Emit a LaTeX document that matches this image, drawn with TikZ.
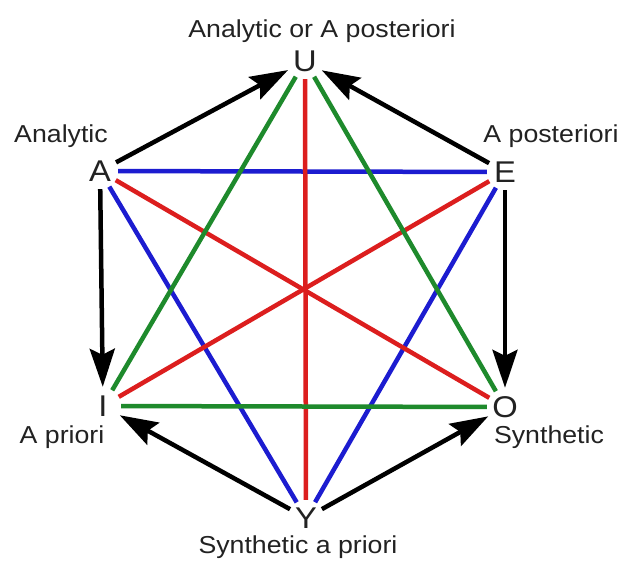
\documentclass[tikz,border=0pt]{standalone}
\usepackage{fontspec}
\setmainfont{Liberation Sans}[FakeStretch=1.09]
\usetikzlibrary{arrows.meta}
\definecolor{lblue}{HTML}{1C1CD0}
\definecolor{lred}{HTML}{DC1E1E}
\definecolor{lgreen}{HTML}{1E8A2C}
\definecolor{ltext}{HTML}{222222}
\begin{document}
\begin{tikzpicture}[x=1pt,y=-1pt,
  vert/.style={circle,minimum size=36pt,inner sep=0pt,text=ltext,
    font=\fontsize{30}{31}\selectfont,text height=21.5pt,text depth=0pt},
  lab/.style={anchor=base,text=ltext,font=\fontsize{24.5}{28}\selectfont,inner sep=0pt},
  cline/.style={line width=4.5pt},
  arr/.style={line width=4.5pt,-{Stealth[length=38pt,width=25pt,inset=6pt]},shorten >=1pt}]
\useasboundingbox[fill=white] (0,0) rectangle (619,565);
\node[vert] (U) at (305,61) {U};
\node[vert] (A) at (100,171) {A};
\node[vert] (E) at (505,172) {E};
\node[vert] (I) at (103,406) {I};
\node[vert] (O) at (505,407) {O};
\node[vert] (Y) at (306,518) {Y};
% labels
\node[lab] (lU) at (322,37) {Analytic or A posteriori};
\node[lab] (lA) at (61,142) {Analytic};
\node[lab] (lE) at (551,142) {A posteriori};
\node[lab] (lI) at (62,443) {A priori};
\node[lab] (lO) at (549,443) {Synthetic};
\node[lab] (lY) at (298,553) {Synthetic a priori};
% coloured lines
\draw[cline,lblue] (A) -- (E);
\draw[cline,lblue] (A) -- (Y);
\draw[cline,lblue] (E) -- (Y);
\draw[cline,lred] (U) -- (Y);
\draw[cline,lred] (A) -- (O);
\draw[cline,lred] (E) -- (I);
\draw[cline,lgreen] (U) -- (I);
\draw[cline,lgreen] (U) -- (O);
\draw[cline,lgreen] (I) -- (O);
% arrows
\draw[arr] (A) -- (U);
\draw[arr] (E) -- (U);
\draw[arr] (A) -- (I);
\draw[arr] (E) -- (O);
\draw[arr] (Y) -- (I);
\draw[arr] (Y) -- (O);
\end{tikzpicture}
\end{document}
